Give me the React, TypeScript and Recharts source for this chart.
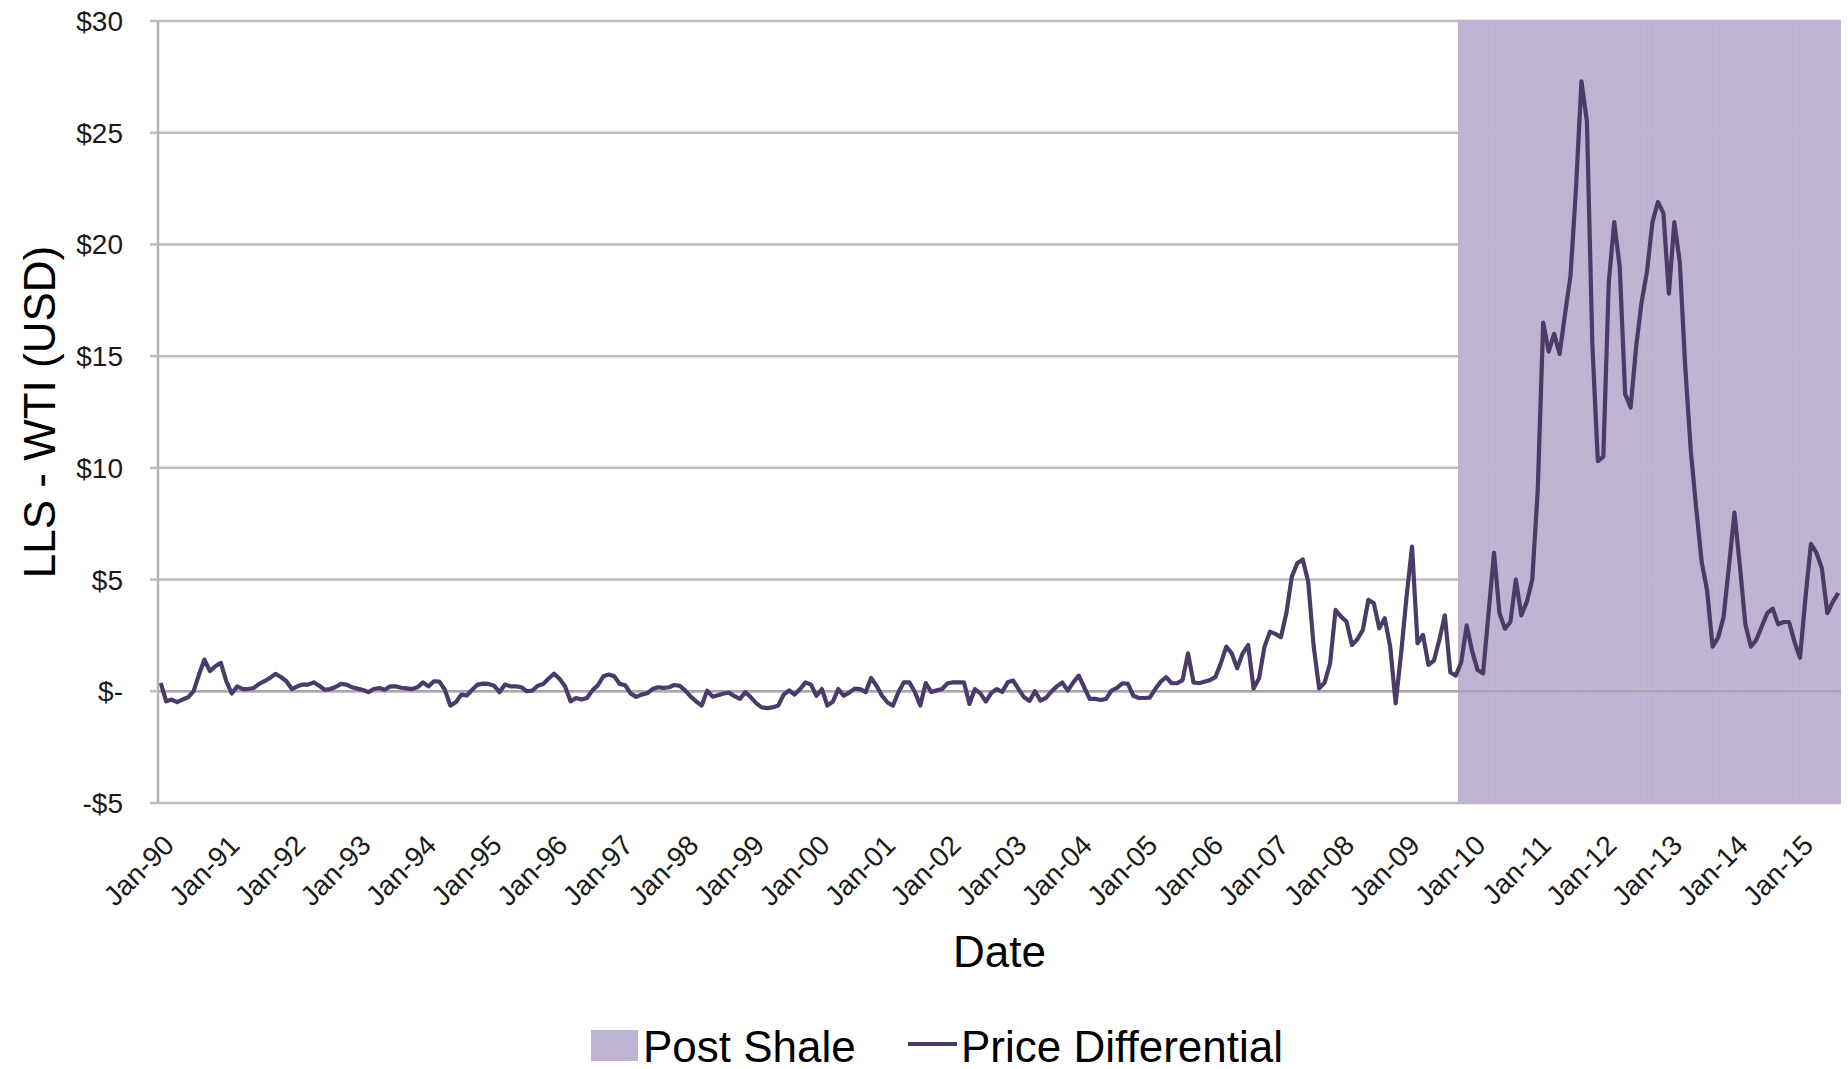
import React from "react"
import {
  ComposedChart,
  Bar,
  Line,
  XAxis,
  YAxis,
  CartesianGrid,
  ReferenceLine,
  Legend,
} from "recharts"

const FONT = '"Liberation Sans", Arial, Helvetica, sans-serif'
const SHADE = "#bfb3d3"
const LINE = "#4a3b68"
const GRID = "#bdbdbd"

const MONTHS = ["Jan", "Feb", "Mar", "Apr", "May", "Jun", "Jul", "Aug", "Sep", "Oct", "Nov", "Dec"]
const FIRST_YEAR = 1990

// LLS - WTI monthly differential (USD)
const diff1990 = [0.37, -0.45, -0.37, -0.49, -0.37, -0.27, 0.0, 0.75, 1.42, 0.9, 1.12, 1.27]
const diff1991 = [0.45, -0.1, 0.22, 0.1, 0.1, 0.15, 0.33, 0.45, 0.6, 0.78, 0.64, 0.45]
const diff1992 = [0.1, 0.22, 0.3, 0.3, 0.4, 0.25, 0.07, 0.1, 0.19, 0.33, 0.3, 0.18]
const diff1993 = [0.12, 0.06, -0.04, 0.1, 0.15, 0.07, 0.22, 0.22, 0.16, 0.13, 0.1, 0.18]
const diff1994 = [0.4, 0.22, 0.45, 0.43, 0.07, -0.64, -0.49, -0.15, -0.19, 0.07, 0.3, 0.34]
const diff1995 = [0.33, 0.25, -0.04, 0.3, 0.22, 0.22, 0.18, 0.0, 0.03, 0.25, 0.33, 0.57]
const diff1996 = [0.79, 0.55, 0.22, -0.45, -0.3, -0.37, -0.3, 0.04, 0.27, 0.67, 0.75, 0.67]
const diff1997 = [0.33, 0.27, -0.1, -0.25, -0.15, -0.09, 0.1, 0.18, 0.15, 0.18, 0.28, 0.24]
const diff1998 = [0.03, -0.24, -0.46, -0.64, 0.03, -0.24, -0.18, -0.1, -0.06, -0.22, -0.34, -0.04]
const diff1999 = [-0.27, -0.54, -0.72, -0.75, -0.72, -0.64, -0.15, 0.04, -0.15, 0.1, 0.4, 0.3]
const diff2000 = [-0.2, 0.1, -0.64, -0.46, 0.1, -0.2, -0.06, 0.12, 0.1, -0.04, 0.6, 0.25]
const diff2001 = [-0.2, -0.5, -0.64, -0.04, 0.4, 0.4, -0.02, -0.64, 0.37, -0.03, 0.04, 0.1]
const diff2002 = [0.36, 0.4, 0.4, 0.4, -0.57, 0.1, -0.09, -0.46, -0.07, 0.1, -0.03, 0.4]
const diff2003 = [0.48, 0.1, -0.27, -0.43, 0.0, -0.42, -0.3, -0.01, 0.22, 0.39, 0.03, 0.4]
const diff2004 = [0.7, 0.18, -0.34, -0.34, -0.39, -0.34, 0.03, 0.15, 0.36, 0.33, -0.2, -0.3]
const diff2005 = [-0.3, -0.28, 0.1, 0.43, 0.63, 0.36, 0.36, 0.5, 1.7, 0.4, 0.36, 0.43]
const diff2006 = [0.5, 0.63, 1.25, 2.0, 1.7, 1.03, 1.7, 2.07, 0.13, 0.58, 2.0, 2.67]
const diff2007 = [2.57, 2.42, 3.5, 5.13, 5.73, 5.9, 4.9, 2.0, 0.13, 0.39, 1.25, 3.64]
const diff2008 = [3.34, 3.12, 2.07, 2.33, 2.75, 4.09, 3.94, 2.82, 3.27, 2.0, -0.54, 1.7]
const diff2009 = [4.24, 6.48, 2.15, 2.52, 1.18, 1.37, 2.3, 3.4, 0.85, 0.7, 1.3, 2.95]
const diff2010 = [1.8, 0.95, 0.8, 3.5, 6.2, 3.5, 2.8, 3.1, 5.0, 3.4, 4.0, 5.0]
const diff2011 = [9.0, 16.5, 15.2, 16.0, 15.1, 16.9, 18.6, 22.5, 27.3, 25.5, 15.5, 10.3]
const diff2012 = [10.5, 18.3, 21.0, 19.0, 13.3, 12.7, 15.4, 17.4, 18.8, 21.0, 21.9, 21.4]
const diff2013 = [17.8, 21.0, 19.2, 14.5, 10.8, 8.2, 5.8, 4.5, 2.0, 2.4, 3.3, 5.6]
const diff2014 = [8.0, 5.6, 3.0, 2.0, 2.3, 2.9, 3.5, 3.7, 3.0, 3.1, 3.1, 2.2]
const diff2015 = [1.5, 4.2, 6.6, 6.2, 5.5, 3.5, 4.0, 4.4]

const differential = [
  ...diff1990, ...diff1991, ...diff1992, ...diff1993, ...diff1994, ...diff1995,
  ...diff1996, ...diff1997, ...diff1998, ...diff1999, ...diff2000, ...diff2001,
  ...diff2002, ...diff2003, ...diff2004, ...diff2005, ...diff2006, ...diff2007,
  ...diff2008, ...diff2009, ...diff2010, ...diff2011, ...diff2012, ...diff2013,
  ...diff2014, ...diff2015,
]

// shaded "Post Shale" period
const postShaleStart = "Nov-09"
const shadeRange = [-5, 30]

const yTicks = [-5, 0, 5, 10, 15, 20, 25, 30]

const labels = differential.map((_, i) => {
  const yr = (FIRST_YEAR + Math.floor(i / 12)) % 100
  return `${MONTHS[i % 12]}-${String(yr).padStart(2, "0")}`
})
const shaleIndex = labels.indexOf(postShaleStart)

const data = differential.map((v, i) => ({
  date: labels[i],
  diff: v,
  shale: i >= shaleIndex ? shadeRange : null,
}))

const money = (v: number) => (v === 0 ? "$-" : v < 0 ? `-$${Math.abs(v)}` : `$${v}`)

function XTick(props: any) {
  const { x, y, payload } = props
  const tx = x + 1
  return (
    <text
      x={tx}
      y={y}
      dy="0.71em"
      transform={`rotate(-45 ${tx} ${y})`}
      textAnchor="end"
      fontFamily={FONT}
      fontSize={28}
      fill="#1a1a1a"
    >
      {payload.value}
    </text>
  )
}

function YTitle(props: any) {
  const vb = props.viewBox || { x: 0, y: 21, width: 158, height: 782 }
  const cx = vb.x + 39
  const cy = vb.y + vb.height / 2
  return (
    <text
      x={cx}
      y={cy}
      dy="0.36em"
      transform={`rotate(-90 ${cx} ${cy})`}
      textAnchor="middle"
      fontFamily={FONT}
      fontSize={44}
      fill="#000"
    >
      LLS - WTI (USD)
    </text>
  )
}

function XTitle(props: any) {
  const vb = props.viewBox || { x: 158, y: 803, width: 1683, height: 206 }
  return (
    <text
      x={vb.x + vb.width / 2}
      y={vb.y + 164}
      textAnchor="middle"
      fontFamily={FONT}
      fontSize={44}
      fill="#000"
    >
      Date
    </text>
  )
}

function ChartLegend() {
  const text: React.CSSProperties = {
    position: "absolute",
    top: 16,
    lineHeight: "44px",
    fontSize: 44,
    fontFamily: FONT,
    color: "#000",
    whiteSpace: "nowrap",
  }
  return (
    <div style={{ position: "relative", height: 60, width: 1848 }}>
      <div style={{ position: "absolute", left: 591, top: 21, width: 47, height: 31, background: SHADE }} />
      <span style={{ ...text, left: 643 }}>Post Shale</span>
      <div style={{ position: "absolute", left: 908, top: 33, width: 49, height: 4, background: LINE }} />
      <span style={{ ...text, left: 961 }}>Price Differential</span>
    </div>
  )
}

export default function App() {
  return (
    <div style={{ position: "absolute", left: 0, top: 0, width: 1848, height: 1069, background: "#fff" }}>
      <ComposedChart
        width={1848}
        height={1069}
        data={data}
        margin={{ top: 21, right: 7, bottom: 0, left: 0 }}
        barCategoryGap={0}
        barGap={0}
      >
        <CartesianGrid horizontal vertical={false} stroke={GRID} strokeWidth={2.5} />
        <XAxis
          dataKey="date"
          interval={11}
          height={206}
          tickLine={false}
          axisLine={false}
          tickSize={0}
          tickMargin={30}
          tick={<XTick />}
          label={<XTitle />}
        />
        <YAxis
          type="number"
          domain={[-5, 30]}
          ticks={yTicks}
          width={158}
          tickFormatter={money}
          tickSize={8}
          tickMargin={27}
          tickLine={{ stroke: GRID, strokeWidth: 2.5 }}
          axisLine={{ stroke: "#b3b3b3", strokeWidth: 2.5 }}
          tick={{ fontSize: 28, fill: "#1a1a1a", fontFamily: FONT }}
          label={<YTitle />}
        />
        <Legend verticalAlign="bottom" wrapperStyle={{ left: 0, width: 1848 }} content={<ChartLegend />} />
        <Bar
          dataKey="shale"
          name="Post Shale"
          fill={SHADE}
          stroke={SHADE}
          strokeWidth={1}
          isAnimationActive={false}
        />
        <ReferenceLine y={0} stroke="#aaa6b0" strokeWidth={2.5} />
        <Line
          type="linear"
          dataKey="diff"
          name="Price Differential"
          stroke={LINE}
          strokeWidth={4.2}
          strokeLinejoin="round"
          dot={false}
          activeDot={false}
          isAnimationActive={false}
        />
      </ComposedChart>
    </div>
  )
}
